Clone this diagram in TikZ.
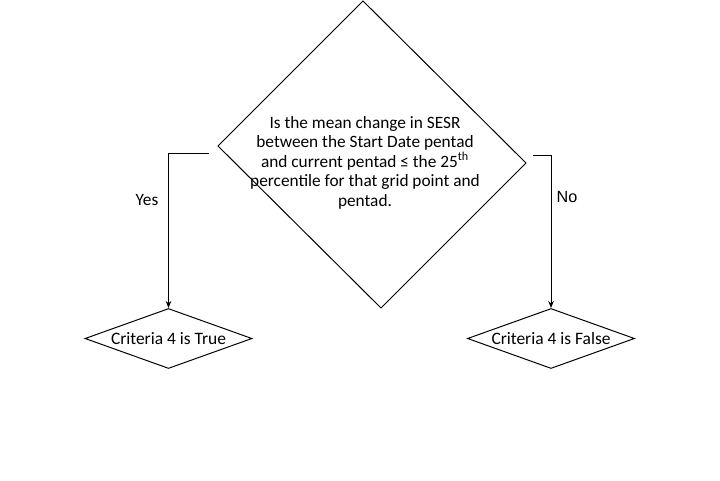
\documentclass[tikz,border=0pt]{standalone}
\usepackage{fontspec}
\setmainfont{Carlito}
\newfontfamily\arialfont{Liberation Sans}
\usetikzlibrary{shapes,arrows.meta,positioning}

\begin{document}
\begin{tikzpicture}[x=0.025cm, y=-0.025cm,
        question/.style={font=\fontsize{12.3}{13.9}\selectfont, align=center, inner sep=0pt},
        result/.style={diamond, draw=black, line width=0.7pt, aspect=2.78, minimum width=4.175cm, minimum height=1.5cm, inner sep=0pt, font=\fontsize{12.4}{14}\selectfont},
        label/.style={font=\fontsize{12.3}{14}\selectfont, inner sep=0pt},
        arrow/.style={-{Stealth[length=5pt,width=4pt]}, line width=0.7pt},
      ]
      \useasboundingbox (0,0) rectangle (720,480);
      % Decision: SESR change against the 25th percentile
      \coordinate (qtop) at (363,1);
      \coordinate (qright) at (526,163);
      \coordinate (qbottom) at (381,308);
      \coordinate (qleft) at (218,146);
      \draw [line width=0.7pt] (qtop) -- (qright) -- (qbottom) -- (qleft) -- cycle;
      \node [question] (sesr) at (365,162.5) {Is the mean change in SESR\\between the Start Date pentad\\and current pentad ≤ the 25\textsuperscript{th}\\percentile for that grid point and\\pentad.};
      % Outcomes
      \node [result] (ctrue) at (168.5,338.5) {Criteria 4 is True};
      \node [result] (cfalse) at (551,338.5) {Criteria 4 is False};
      \coordinate (yesstart) at (209,153.5);
      \coordinate (nostart) at (533,155);
      \draw [arrow] (yesstart) -| (ctrue.north);
      \draw [arrow] (nostart) -| (cfalse.north);
      \node [label] (yes) at (147,200.5) {Yes};
      \node [label, font=\arialfont\fontsize{11.5}{13}\selectfont] (no) at (567,197) {No};
    \end{tikzpicture}
\end{document}
